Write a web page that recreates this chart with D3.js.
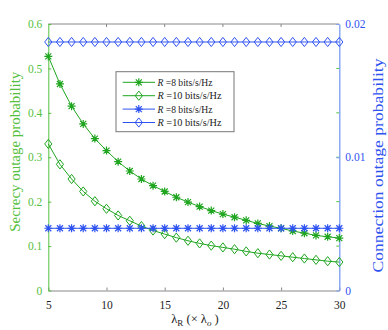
<!DOCTYPE html>
<html>
<head>
<meta charset="utf-8">
<script src="https://cdn.jsdelivr.net/npm/d3@7"></script>
<style>
  body { margin: 0; background: #fff; }
  svg text { font-family: "Liberation Serif", "DejaVu Serif", serif !important; }
</style>
</head>
<body>
<svg></svg>
<script>
// data
const lambdaR = d3.range(5, 31);
const secR8 = [0.527, 0.465, 0.415, 0.375, 0.342, 0.315, 0.290, 0.269, 0.251, 0.236,
    0.223, 0.210, 0.199, 0.189, 0.180, 0.172, 0.165, 0.158, 0.151, 0.145,
    0.140, 0.134, 0.129, 0.124, 0.121, 0.118];
const secR10 = [0.330, 0.284, 0.251, 0.223, 0.201, 0.184, 0.169, 0.157, 0.145, 0.135,
    0.127, 0.119, 0.112, 0.106, 0.101, 0.097, 0.093, 0.088, 0.084, 0.081,
    0.078, 0.075, 0.072, 0.069, 0.066, 0.064];
const conR8 = lambdaR.map(() => 0.00467);
const conR10 = lambdaR.map(() => 0.01865);
const xTicks = [5, 10, 15, 20, 25, 30];
const yLeftTicks = [0, 0.1, 0.2, 0.3, 0.4, 0.5, 0.6];
const yRightTicks = [0, 0.01, 0.02];
const legendLabels = ["=8 bits/s/Hz", "=10 bits/s/Hz", "=8 bits/s/Hz", "=10 bits/s/Hz"];

function main() {
    const canvasWidth = 388;
    const canvasHeight = 330;
    const left = 48.3, right = 339.3, top = 24, bottom = 290.5;

    const green = "#1fa51f";
    const greenAxis = "#55c040";
    const blue = "#2e52f0";
    const blueAxis = "#7a9cf2";

    let svg = d3.select("svg")
        .attr("width", canvasWidth)
        .attr("height", canvasHeight);

    let xScale = d3.scaleLinear().domain([5, 30]).range([left, right]);
    let yLeft = d3.scaleLinear().domain([0, 0.6]).range([bottom, top]);
    let yRight = d3.scaleLinear().domain([0, 0.02]).range([bottom, top]);

    // box: top gray line
    svg.append("line").attr("x1", left).attr("x2", right).attr("y1", top).attr("y2", top)
        .attr("stroke", "#888").attr("stroke-width", 1);

    // bottom axis (ticks inward)
    let xAxis = svg.append("g")
        .attr("transform", `translate(0, ${bottom})`)
        .call(d3.axisBottom(xScale).tickValues(xTicks).tickSizeInner(-3).tickSizeOuter(0).tickPadding(10.5));
    xAxis.select(".domain").attr("stroke", "#888");
    xAxis.selectAll(".tick line").attr("stroke", "#888");
    xAxis.selectAll("text").attr("font-size", 11.5).attr("fill", "#222");

    // top ticks
    svg.append("g").selectAll("line").data(xTicks.slice(1, -1)).join("line")
        .attr("x1", d => xScale(d)).attr("x2", d => xScale(d))
        .attr("y1", top).attr("y2", top + 3).attr("stroke", "#888");

    // left axis
    let yAxisL = svg.append("g")
        .attr("transform", `translate(${left}, 0)`)
        .call(d3.axisLeft(yLeft).tickValues(yLeftTicks).tickFormat(d3.format("")).tickSizeInner(-3).tickSizeOuter(0).tickPadding(6));
    yAxisL.select(".domain").attr("stroke", greenAxis);
    yAxisL.selectAll(".tick line").attr("stroke", greenAxis);
    yAxisL.selectAll("text").attr("font-size", 11.5).attr("fill", greenAxis);

    // mirrored left ticks on right side
    svg.append("g").selectAll("line").data(yLeftTicks.slice(1, -1)).join("line")
        .attr("x1", right).attr("x2", right - 3)
        .attr("y1", d => yLeft(d)).attr("y2", d => yLeft(d)).attr("stroke", greenAxis);

    // right axis
    let yAxisR = svg.append("g")
        .attr("transform", `translate(${right}, 0)`)
        .call(d3.axisRight(yRight).tickValues(yRightTicks).tickFormat(d3.format("")).tickSizeInner(-3).tickSizeOuter(0).tickPadding(6));
    yAxisR.select(".domain").attr("stroke", blueAxis).attr("stroke-width", 1.3);
    yAxisR.selectAll(".tick line").attr("stroke", blueAxis);
    yAxisR.selectAll("text").attr("font-size", 11.5).attr("fill", blue);

    // series
    let lineL = d3.line().x((d, i) => xScale(lambdaR[i])).y(d => yLeft(d));
    let lineR = d3.line().x((d, i) => xScale(lambdaR[i])).y(d => yRight(d));

    const series = [
        { data: secR8, line: lineL, y: yLeft, color: green, marker: "star" },
        { data: secR10, line: lineL, y: yLeft, color: green, marker: "diamond" },
        { data: conR8, line: lineR, y: yRight, color: blue, marker: "star" },
        { data: conR10, line: lineR, y: yRight, color: blue, marker: "diamond" }
    ];

    function drawMarker(g, type, color) {
        if (type === "star") {
            const r = 4;
            const p = `M${-r},0H${r}M0,${-r}V${r}M${-r * 0.75},${-r * 0.75}L${r * 0.75},${r * 0.75}M${-r * 0.75},${r * 0.75}L${r * 0.75},${-r * 0.75}`;
            g.append("path").attr("d", p).attr("stroke", color).attr("stroke-width", 1.2).attr("fill", "none");
        } else {
            const w = 3.6, h = 4.6;
            g.append("path").attr("d", `M0,${-h}L${w},0L0,${h}L${-w},0Z`)
                .attr("stroke", color).attr("stroke-width", 1).attr("fill", "none");
        }
    }

    series.forEach(s => {
        svg.append("path").datum(s.data)
            .attr("fill", "none").attr("stroke", s.color).attr("stroke-width", 1)
            .attr("d", s.line);
        svg.append("g").selectAll("g").data(s.data).join("g")
            .attr("transform", (d, i) => `translate(${xScale(lambdaR[i])}, ${s.y(d)})`)
            .each(function () { drawMarker(d3.select(this), s.marker, s.color); });
    });

    // legend
    let legend = svg.append("g").attr("transform", "translate(116, 71.7)");
    legend.append("rect").attr("width", 118).attr("height", 60)
        .attr("fill", "#fff").attr("stroke", "#777").attr("stroke-width", 1);
    series.forEach((s, i) => {
        const ly = 10.6 + i * 13.4;
        legend.append("line").attr("x1", 6.7).attr("x2", 39).attr("y1", ly).attr("y2", ly)
            .attr("stroke", s.color).attr("stroke-width", 1);
        drawMarker(legend.append("g").attr("transform", `translate(22.8, ${ly})`), s.marker, s.color);
        let t = legend.append("text").attr("x", 41.5).attr("y", ly + 3.8)
            .attr("font-size", 11).attr("fill", "#222")
            .attr("textLength", legendLabels[i].length > 12 ? 64 : 55)
            .attr("lengthAdjust", "spacingAndGlyphs");
        t.append("tspan").attr("font-style", "italic").text("R");
        t.append("tspan").text(" " + legendLabels[i]);
    });

    // axis titles
    svg.append("text")
        .attr("transform", `translate(20, 151.7) rotate(-90)`)
        .attr("text-anchor", "middle")
        .attr("font-size", 14).attr("fill", greenAxis)
        .attr("textLength", 160).attr("lengthAdjust", "spacingAndGlyphs")
        .text("Secrecy outage probability");

    svg.append("text")
        .attr("transform", `translate(383, 165.5) rotate(-90)`)
        .attr("text-anchor", "middle")
        .attr("font-size", 15.5).attr("fill", blue)
        .attr("textLength", 214).attr("lengthAdjust", "spacingAndGlyphs")
        .text("Connection outage probability");

    let xl = svg.append("text")
        .attr("x", 195).attr("y", 323)
        .attr("text-anchor", "middle").attr("font-size", 12.5).attr("fill", "#222");
    xl.append("tspan").text("λ");
    xl.append("tspan").attr("font-size", 9).attr("dy", 3).text("R");
    xl.append("tspan").attr("dy", -3).text(" (× λ");
    xl.append("tspan").attr("font-size", 9).attr("font-style", "italic").attr("dy", 3).text("o");
    xl.append("tspan").attr("dy", -3).text(" )");
}

main();
</script>
</body>
</html>
